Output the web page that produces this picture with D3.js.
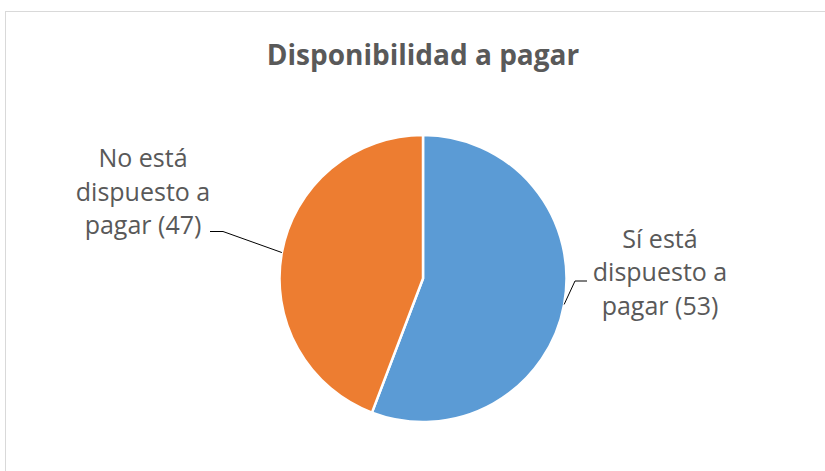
<!DOCTYPE html>
<html>
<head>
<meta charset="utf-8">
<script src="https://cdn.jsdelivr.net/npm/d3@7"></script>
<style>
  body { margin: 0; background: #fff; }
  text { font-family: "Open Sans", sans-serif; fill: #595959; }
</style>
</head>
<body>
<div id="chart"></div>
<script>
// data
var title = "Disponibilidad a pagar";
var categories = ["Sí está dispuesto a pagar", "No está dispuesto a pagar"];
var labelCounts = [53, 47];      // numbers printed in the labels
var sliceValues = [53, 42];      // slice sizes as drawn (blue covers ~56% of the circle)
var colors = ["#5B9BD5", "#ED7D31"];
var labelLines = [
    ["Sí está", "dispuesto a", "pagar (53)"],
    ["No está", "dispuesto a", "pagar (47)"]
];

var w = 825;
var h = 471;
var cx = 423, cy = 278.5, r = 143.5;

var svg = d3.select("#chart").append("svg")
    .attr("width", w)
    .attr("height", h);

// chart area border (runs off the right and bottom edges)
svg.append("rect")
    .attr("x", 5.5)
    .attr("y", 11.5)
    .attr("width", 840)
    .attr("height", 480)
    .attr("fill", "none")
    .attr("stroke", "#d9d9d9")
    .attr("stroke-width", 1);

svg.append("text")
    .attr("x", cx)
    .attr("y", 65)
    .attr("text-anchor", "middle")
    .style("font-size", "28px")
    .style("font-weight", "bold")
    .text(title);

var data = categories.map(function(c, i){
    return { name: c, value: sliceValues[i], count: labelCounts[i], color: colors[i], lines: labelLines[i] };
});

var pie = d3.pie()
    .sort(null)
    .value(function(d){ return d.value; });

var arc = d3.arc()
    .innerRadius(0)
    .outerRadius(r);

var g = svg.append("g")
    .attr("transform", "translate(" + cx + "," + cy + ")");

var arcs = pie(data);

g.selectAll(".slice")
    .data(arcs)
    .enter()
    .append("path")
    .classed("slice", true)
    .attr("d", arc)
    .attr("fill", function(d){ return d.data.color; })
    .attr("stroke", "#fff")
    .attr("stroke-width", 2.5)
    .attr("stroke-linejoin", "round");

// label layout: elbow point, end of leader, text centre and first baseline
var labelLayout = [
    { elbow: [152, 2.5], end: [164, 2.5], tx: 237, ty: -31, side: 1 },
    { elbow: [-200, -47], end: [-213, -47], tx: -280, ty: -111.5, side: -1 }
];
var lineGap = 33.5;

arcs.forEach(function(d, i){
    var mid = (d.startAngle + d.endAngle) / 2;
    var sx = Math.sin(mid) * r;
    var sy = -Math.cos(mid) * r;
    var L = labelLayout[i];
    g.append("path")
        .attr("d", d3.line()([[sx, sy], L.elbow, L.end]))
        .attr("fill", "none")
        .attr("stroke", "#000")
        .attr("stroke-width", 1);

    var t = g.append("text")
        .attr("text-anchor", "middle")
        .style("font-size", "25px");
    d.data.lines.forEach(function(line, j){
        t.append("tspan")
            .attr("x", L.tx)
            .attr("y", L.ty + j * lineGap)
            .text(line);
    });
});
</script>
</body>
</html>
